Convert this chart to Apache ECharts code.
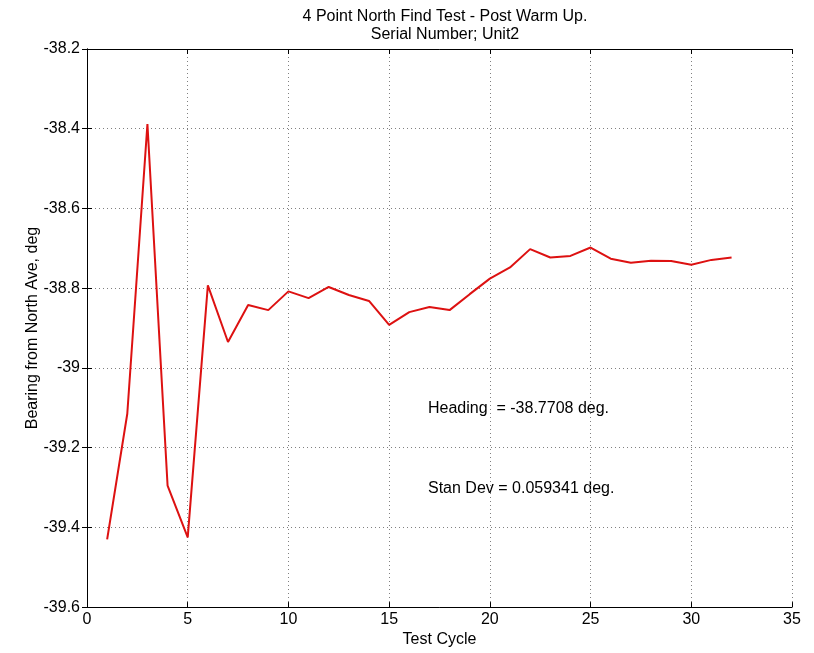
<!DOCTYPE html>
<html>
<head>
<meta charset="utf-8">
<script src="https://cdn.jsdelivr.net/npm/echarts@6/dist/echarts.min.js"></script>
<style>
  html, body { margin: 0; padding: 0; background: #fff; }
  #main { width: 814px; height: 653px; }
</style>
</head>
<body>
<div id="main"></div>
<script>
// test cycles and bearing values
var cycles = [1, 2, 3, 4, 5, 6, 7, 8, 9, 10, 11, 12, 13, 14, 15, 16,
  17, 18, 19, 20, 21, 22, 23, 24, 25, 26, 27, 28, 29, 30, 31, 32];
var bearing = [-39.430, -39.115, -38.388, -39.295, -39.425, -38.793, -38.935, -38.842,
  -38.855, -38.808, -38.825, -38.797, -38.817, -38.832, -38.892, -38.860,
  -38.847, -38.855, -38.815, -38.776, -38.748, -38.702, -38.723, -38.719,
  -38.698, -38.726, -38.736, -38.731, -38.732, -38.741, -38.729, -38.723];
var notes = ['Heading  = -38.7708 deg.', 'Stan Dev = 0.059341 deg.'];

var font = 'Liberation Sans, Arial, sans-serif';
var fs = 16;
var chart = echarts.init(document.getElementById('main'));

var gridLine = { show: true, lineStyle: { color: '#808080', type: [1, 3], width: 1 } };
var frame = { show: true, lineStyle: { color: '#000', width: 1 } };
var ticks = { show: true, inside: true, length: 5, lineStyle: { color: '#000' } };
var label = { color: '#000', fontFamily: font, fontSize: fs };

chart.setOption({
  backgroundColor: '#fff',
  animation: false,
  title: {
    text: '4 Point North Find Test - Post Warm Up.\nSerial Number; Unit2',
    left: 440,
    top: 3,
    textAlign: 'center',
    textStyle: { fontFamily: font, fontSize: fs, fontWeight: 'normal', color: '#000', lineHeight: 18 }
  },
  grid: { left: 87, right: 22, top: 49, bottom: 44 },
  xAxis: [{
    type: 'value', min: 0, max: 35, interval: 5,
    name: 'Test Cycle', nameLocation: 'middle', nameGap: 22,
    nameTextStyle: { fontFamily: font, fontSize: fs, color: '#000' },
    axisLine: frame, axisTick: ticks, splitLine: gridLine,
    axisLabel: Object.assign({ margin: 4 }, label)
  }, {
    type: 'value', position: 'top', min: 0, max: 35, interval: 5,
    axisLine: frame, axisTick: ticks, splitLine: { show: false }, axisLabel: { show: false }
  }],
  yAxis: [{
    type: 'value', min: -39.6, max: -38.2, interval: 0.2,
    name: 'Bearing from North Ave, deg', nameLocation: 'middle', nameGap: 46,
    nameMoveOverlap: false,
    nameTextStyle: { fontFamily: font, fontSize: fs, color: '#000' },
    axisLine: frame, axisTick: ticks, splitLine: gridLine,
    axisLabel: Object.assign({ margin: 7, formatter: function (v) {
      return String(Math.round(v * 10) / 10);
    } }, label)
  }, {
    type: 'value', position: 'right', min: -39.6, max: -38.2, interval: 0.2,
    axisLine: frame, axisTick: ticks, splitLine: { show: false }, axisLabel: { show: false }
  }],
  series: [{
    type: 'line',
    data: cycles.map(function (c, i) { return [c, bearing[i]]; }),
    showSymbol: false,
    lineStyle: { color: '#dd1111', width: 2 },
    z: 5
  }],
  graphic: [
    { type: 'text', left: 428, top: 401, style: { text: notes[0], fontFamily: font, fontSize: fs, fill: '#000' } },
    { type: 'text', left: 428, top: 481, style: { text: notes[1], fontFamily: font, fontSize: fs, fill: '#000' } }
  ]
});
</script>
</body>
</html>
